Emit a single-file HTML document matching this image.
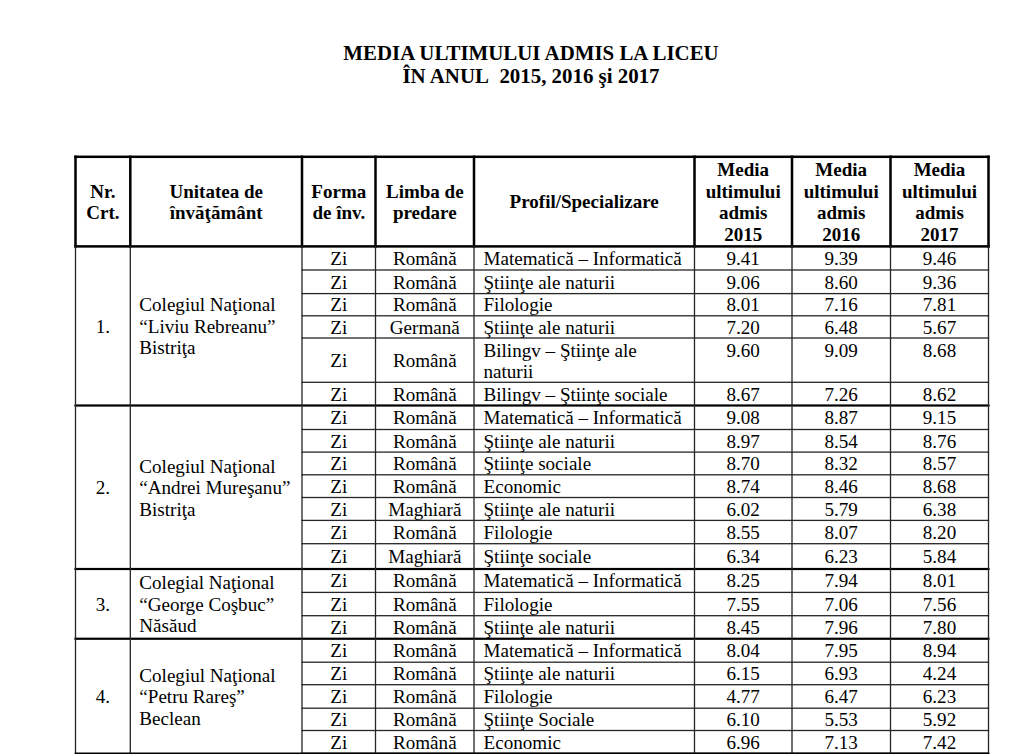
<!DOCTYPE html><html><head><meta charset="utf-8"><style>
html,body{margin:0;padding:0;background:#fff;width:1024px;height:754px;overflow:hidden;}
body{position:relative;font-family:"Liberation Serif",serif;color:#000;}
.t{position:absolute;white-space:nowrap;line-height:1;}
.c{transform:translateX(-50%);}
.b{font-weight:bold;}
svg{position:absolute;left:0;top:0;}
</style></head><body>
<svg width="1024" height="754" viewBox="0 0 1024 754"><rect x="74.25" y="155.55" width="915.50" height="2.5" fill="#000"/><rect x="74.25" y="155.55" width="2.5" height="92.10" fill="#000"/><rect x="129.05" y="155.55" width="2.5" height="92.10" fill="#000"/><rect x="300.75" y="155.55" width="2.5" height="92.10" fill="#000"/><rect x="374.25" y="155.55" width="2.5" height="92.10" fill="#000"/><rect x="472.75" y="155.55" width="2.5" height="92.10" fill="#000"/><rect x="693.25" y="155.55" width="2.5" height="92.10" fill="#000"/><rect x="790.75" y="155.55" width="2.5" height="92.10" fill="#000"/><rect x="889.25" y="155.55" width="2.5" height="92.10" fill="#000"/><rect x="987.25" y="155.55" width="2.5" height="92.10" fill="#000"/><rect x="74.25" y="245.15" width="915.50" height="2.5" fill="#000"/><rect x="301.35" y="269.35" width="687.80" height="1.3" fill="#262626"/><rect x="301.35" y="292.95" width="687.80" height="1.3" fill="#262626"/><rect x="301.35" y="315.15" width="687.80" height="1.3" fill="#262626"/><rect x="301.35" y="337.35" width="687.80" height="1.3" fill="#262626"/><rect x="301.35" y="381.65" width="687.80" height="1.3" fill="#262626"/><rect x="74.40" y="404.40" width="915.20" height="2.2" fill="#000"/><rect x="301.35" y="428.85" width="687.80" height="1.3" fill="#262626"/><rect x="301.35" y="451.45" width="687.80" height="1.3" fill="#262626"/><rect x="301.35" y="474.15" width="687.80" height="1.3" fill="#262626"/><rect x="301.35" y="496.85" width="687.80" height="1.3" fill="#262626"/><rect x="301.35" y="519.75" width="687.80" height="1.3" fill="#262626"/><rect x="301.35" y="543.05" width="687.80" height="1.3" fill="#262626"/><rect x="74.40" y="567.90" width="915.20" height="2.2" fill="#000"/><rect x="301.35" y="591.75" width="687.80" height="1.3" fill="#262626"/><rect x="301.35" y="615.05" width="687.80" height="1.3" fill="#262626"/><rect x="74.40" y="637.65" width="915.20" height="2.2" fill="#000"/><rect x="301.35" y="661.55" width="687.80" height="1.3" fill="#262626"/><rect x="301.35" y="684.05" width="687.80" height="1.3" fill="#262626"/><rect x="301.35" y="707.55" width="687.80" height="1.3" fill="#262626"/><rect x="301.35" y="729.85" width="687.80" height="1.3" fill="#262626"/><rect x="301.35" y="752.65" width="687.80" height="1.3" fill="#262626"/><rect x="74.85" y="245.75" width="1.3" height="508.20" fill="#262626"/><rect x="129.65" y="245.75" width="1.3" height="508.20" fill="#262626"/><rect x="301.35" y="245.75" width="1.3" height="508.20" fill="#262626"/><rect x="374.85" y="245.75" width="1.3" height="508.20" fill="#262626"/><rect x="473.35" y="245.75" width="1.3" height="508.20" fill="#262626"/><rect x="693.85" y="245.75" width="1.3" height="508.20" fill="#262626"/><rect x="791.35" y="245.75" width="1.3" height="508.20" fill="#262626"/><rect x="889.85" y="245.75" width="1.3" height="508.20" fill="#262626"/><rect x="987.85" y="245.75" width="1.3" height="508.20" fill="#262626"/><rect x="74.70" y="752.50" width="914.60" height="1.6" fill="#000"/></svg>
<div class="t b c" style="left:531.0px;top:42.9px;font-size:20.9px">MEDIA ULTIMULUI ADMIS LA LICEU</div>
<div class="t b c" style="left:531.0px;top:66.1px;font-size:20.9px">ÎN ANUL&nbsp; 2015, 2016 şi 2017</div>
<div class="t b c" style="left:102.9px;top:181.8px;font-size:19.0px">Nr.</div>
<div class="t b c" style="left:102.9px;top:202.9px;font-size:19.0px">Crt.</div>
<div class="t b c" style="left:216.2px;top:181.8px;font-size:19.0px">Unitatea de</div>
<div class="t b c" style="left:216.2px;top:202.9px;font-size:19.0px">învăţământ</div>
<div class="t b c" style="left:338.8px;top:181.8px;font-size:19.0px">Forma</div>
<div class="t b c" style="left:338.8px;top:202.9px;font-size:19.0px">de înv.</div>
<div class="t b c" style="left:424.8px;top:181.8px;font-size:19.0px">Limba de</div>
<div class="t b c" style="left:424.8px;top:202.9px;font-size:19.0px">predare</div>
<div class="t b c" style="left:584.2px;top:192.4px;font-size:19.0px">Profil/Specializare</div>
<div class="t b c" style="left:743.2px;top:159.6px;font-size:19.0px">Media</div>
<div class="t b c" style="left:743.2px;top:181.8px;font-size:19.0px">ultimului</div>
<div class="t b c" style="left:743.2px;top:202.9px;font-size:19.0px">admis</div>
<div class="t b c" style="left:743.2px;top:225.1px;font-size:19.0px">2015</div>
<div class="t b c" style="left:841.2px;top:159.6px;font-size:19.0px">Media</div>
<div class="t b c" style="left:841.2px;top:181.8px;font-size:19.0px">ultimului</div>
<div class="t b c" style="left:841.2px;top:202.9px;font-size:19.0px">admis</div>
<div class="t b c" style="left:841.2px;top:225.1px;font-size:19.0px">2016</div>
<div class="t b c" style="left:939.5px;top:159.6px;font-size:19.0px">Media</div>
<div class="t b c" style="left:939.5px;top:181.8px;font-size:19.0px">ultimului</div>
<div class="t b c" style="left:939.5px;top:202.9px;font-size:19.0px">admis</div>
<div class="t b c" style="left:939.5px;top:225.1px;font-size:19.0px">2017</div>
<div class="t  c" style="left:338.8px;top:248.9px;font-size:19.1px">Zi</div>
<div class="t  c" style="left:424.8px;top:248.9px;font-size:19.1px">Română</div>
<div class="t " style="left:483.5px;top:248.9px;font-size:19.1px">Matematică – Informatică</div>
<div class="t  c" style="left:743.2px;top:248.9px;font-size:19.1px">9.41</div>
<div class="t  c" style="left:841.2px;top:248.9px;font-size:19.1px">9.39</div>
<div class="t  c" style="left:939.5px;top:248.9px;font-size:19.1px">9.46</div>
<div class="t  c" style="left:338.8px;top:272.5px;font-size:19.1px">Zi</div>
<div class="t  c" style="left:424.8px;top:272.5px;font-size:19.1px">Română</div>
<div class="t " style="left:483.5px;top:272.5px;font-size:19.1px">Ştiinţe ale naturii</div>
<div class="t  c" style="left:743.2px;top:272.5px;font-size:19.1px">9.06</div>
<div class="t  c" style="left:841.2px;top:272.5px;font-size:19.1px">8.60</div>
<div class="t  c" style="left:939.5px;top:272.5px;font-size:19.1px">9.36</div>
<div class="t  c" style="left:338.8px;top:295.4px;font-size:19.1px">Zi</div>
<div class="t  c" style="left:424.8px;top:295.4px;font-size:19.1px">Română</div>
<div class="t " style="left:483.5px;top:295.4px;font-size:19.1px">Filologie</div>
<div class="t  c" style="left:743.2px;top:295.4px;font-size:19.1px">8.01</div>
<div class="t  c" style="left:841.2px;top:295.4px;font-size:19.1px">7.16</div>
<div class="t  c" style="left:939.5px;top:295.4px;font-size:19.1px">7.81</div>
<div class="t  c" style="left:338.8px;top:317.6px;font-size:19.1px">Zi</div>
<div class="t  c" style="left:424.8px;top:317.6px;font-size:19.1px">Germană</div>
<div class="t " style="left:483.5px;top:317.6px;font-size:19.1px">Ştiinţe ale naturii</div>
<div class="t  c" style="left:743.2px;top:317.6px;font-size:19.1px">7.20</div>
<div class="t  c" style="left:841.2px;top:317.6px;font-size:19.1px">6.48</div>
<div class="t  c" style="left:939.5px;top:317.6px;font-size:19.1px">5.67</div>
<div class="t  c" style="left:338.8px;top:350.8px;font-size:19.1px">Zi</div>
<div class="t  c" style="left:424.8px;top:350.8px;font-size:19.1px">Română</div>
<div class="t " style="left:483.5px;top:340.8px;font-size:19.1px">Bilingv – Ştiinţe ale</div>
<div class="t " style="left:483.5px;top:361.8px;font-size:19.1px">naturii</div>
<div class="t  c" style="left:743.2px;top:340.5px;font-size:19.1px">9.60</div>
<div class="t  c" style="left:841.2px;top:340.5px;font-size:19.1px">9.09</div>
<div class="t  c" style="left:939.5px;top:340.5px;font-size:19.1px">8.68</div>
<div class="t  c" style="left:338.8px;top:384.6px;font-size:19.1px">Zi</div>
<div class="t  c" style="left:424.8px;top:384.6px;font-size:19.1px">Română</div>
<div class="t " style="left:483.5px;top:384.6px;font-size:19.1px">Bilingv – Ştiinţe sociale</div>
<div class="t  c" style="left:743.2px;top:384.6px;font-size:19.1px">8.67</div>
<div class="t  c" style="left:841.2px;top:384.6px;font-size:19.1px">7.26</div>
<div class="t  c" style="left:939.5px;top:384.6px;font-size:19.1px">8.62</div>
<div class="t  c" style="left:338.8px;top:408.2px;font-size:19.1px">Zi</div>
<div class="t  c" style="left:424.8px;top:408.2px;font-size:19.1px">Română</div>
<div class="t " style="left:483.5px;top:408.2px;font-size:19.1px">Matematică – Informatică</div>
<div class="t  c" style="left:743.2px;top:408.2px;font-size:19.1px">9.08</div>
<div class="t  c" style="left:841.2px;top:408.2px;font-size:19.1px">8.87</div>
<div class="t  c" style="left:939.5px;top:408.2px;font-size:19.1px">9.15</div>
<div class="t  c" style="left:338.8px;top:431.5px;font-size:19.1px">Zi</div>
<div class="t  c" style="left:424.8px;top:431.5px;font-size:19.1px">Română</div>
<div class="t " style="left:483.5px;top:431.5px;font-size:19.1px">Ştiinţe ale naturii</div>
<div class="t  c" style="left:743.2px;top:431.5px;font-size:19.1px">8.97</div>
<div class="t  c" style="left:841.2px;top:431.5px;font-size:19.1px">8.54</div>
<div class="t  c" style="left:939.5px;top:431.5px;font-size:19.1px">8.76</div>
<div class="t  c" style="left:338.8px;top:454.1px;font-size:19.1px">Zi</div>
<div class="t  c" style="left:424.8px;top:454.1px;font-size:19.1px">Română</div>
<div class="t " style="left:483.5px;top:454.1px;font-size:19.1px">Ştiinţe sociale</div>
<div class="t  c" style="left:743.2px;top:454.1px;font-size:19.1px">8.70</div>
<div class="t  c" style="left:841.2px;top:454.1px;font-size:19.1px">8.32</div>
<div class="t  c" style="left:939.5px;top:454.1px;font-size:19.1px">8.57</div>
<div class="t  c" style="left:338.8px;top:476.8px;font-size:19.1px">Zi</div>
<div class="t  c" style="left:424.8px;top:476.8px;font-size:19.1px">Română</div>
<div class="t " style="left:483.5px;top:476.8px;font-size:19.1px">Economic</div>
<div class="t  c" style="left:743.2px;top:476.8px;font-size:19.1px">8.74</div>
<div class="t  c" style="left:841.2px;top:476.8px;font-size:19.1px">8.46</div>
<div class="t  c" style="left:939.5px;top:476.8px;font-size:19.1px">8.68</div>
<div class="t  c" style="left:338.8px;top:499.6px;font-size:19.1px">Zi</div>
<div class="t  c" style="left:424.8px;top:499.6px;font-size:19.1px">Maghiară</div>
<div class="t " style="left:483.5px;top:499.6px;font-size:19.1px">Ştiinţe ale naturii</div>
<div class="t  c" style="left:743.2px;top:499.6px;font-size:19.1px">6.02</div>
<div class="t  c" style="left:841.2px;top:499.6px;font-size:19.1px">5.79</div>
<div class="t  c" style="left:939.5px;top:499.6px;font-size:19.1px">6.38</div>
<div class="t  c" style="left:338.8px;top:522.7px;font-size:19.1px">Zi</div>
<div class="t  c" style="left:424.8px;top:522.7px;font-size:19.1px">Română</div>
<div class="t " style="left:483.5px;top:522.7px;font-size:19.1px">Filologie</div>
<div class="t  c" style="left:743.2px;top:522.7px;font-size:19.1px">8.55</div>
<div class="t  c" style="left:841.2px;top:522.7px;font-size:19.1px">8.07</div>
<div class="t  c" style="left:939.5px;top:522.7px;font-size:19.1px">8.20</div>
<div class="t  c" style="left:338.8px;top:547.0px;font-size:19.1px">Zi</div>
<div class="t  c" style="left:424.8px;top:547.0px;font-size:19.1px">Maghiară</div>
<div class="t " style="left:483.5px;top:547.0px;font-size:19.1px">Ştiinţe sociale</div>
<div class="t  c" style="left:743.2px;top:547.0px;font-size:19.1px">6.34</div>
<div class="t  c" style="left:841.2px;top:547.0px;font-size:19.1px">6.23</div>
<div class="t  c" style="left:939.5px;top:547.0px;font-size:19.1px">5.84</div>
<div class="t  c" style="left:338.8px;top:571.4px;font-size:19.1px">Zi</div>
<div class="t  c" style="left:424.8px;top:571.4px;font-size:19.1px">Română</div>
<div class="t " style="left:483.5px;top:571.4px;font-size:19.1px">Matematică – Informatică</div>
<div class="t  c" style="left:743.2px;top:571.4px;font-size:19.1px">8.25</div>
<div class="t  c" style="left:841.2px;top:571.4px;font-size:19.1px">7.94</div>
<div class="t  c" style="left:939.5px;top:571.4px;font-size:19.1px">8.01</div>
<div class="t  c" style="left:338.8px;top:594.7px;font-size:19.1px">Zi</div>
<div class="t  c" style="left:424.8px;top:594.7px;font-size:19.1px">Română</div>
<div class="t " style="left:483.5px;top:594.7px;font-size:19.1px">Filologie</div>
<div class="t  c" style="left:743.2px;top:594.7px;font-size:19.1px">7.55</div>
<div class="t  c" style="left:841.2px;top:594.7px;font-size:19.1px">7.06</div>
<div class="t  c" style="left:939.5px;top:594.7px;font-size:19.1px">7.56</div>
<div class="t  c" style="left:338.8px;top:617.9px;font-size:19.1px">Zi</div>
<div class="t  c" style="left:424.8px;top:617.9px;font-size:19.1px">Română</div>
<div class="t " style="left:483.5px;top:617.9px;font-size:19.1px">Ştiinţe ale naturii</div>
<div class="t  c" style="left:743.2px;top:617.9px;font-size:19.1px">8.45</div>
<div class="t  c" style="left:841.2px;top:617.9px;font-size:19.1px">7.96</div>
<div class="t  c" style="left:939.5px;top:617.9px;font-size:19.1px">7.80</div>
<div class="t  c" style="left:338.8px;top:641.2px;font-size:19.1px">Zi</div>
<div class="t  c" style="left:424.8px;top:641.2px;font-size:19.1px">Română</div>
<div class="t " style="left:483.5px;top:641.2px;font-size:19.1px">Matematică – Informatică</div>
<div class="t  c" style="left:743.2px;top:641.2px;font-size:19.1px">8.04</div>
<div class="t  c" style="left:841.2px;top:641.2px;font-size:19.1px">7.95</div>
<div class="t  c" style="left:939.5px;top:641.2px;font-size:19.1px">8.94</div>
<div class="t  c" style="left:338.8px;top:664.1px;font-size:19.1px">Zi</div>
<div class="t  c" style="left:424.8px;top:664.1px;font-size:19.1px">Română</div>
<div class="t " style="left:483.5px;top:664.1px;font-size:19.1px">Ştiinţe ale naturii</div>
<div class="t  c" style="left:743.2px;top:664.1px;font-size:19.1px">6.15</div>
<div class="t  c" style="left:841.2px;top:664.1px;font-size:19.1px">6.93</div>
<div class="t  c" style="left:939.5px;top:664.1px;font-size:19.1px">4.24</div>
<div class="t  c" style="left:338.8px;top:687.1px;font-size:19.1px">Zi</div>
<div class="t  c" style="left:424.8px;top:687.1px;font-size:19.1px">Română</div>
<div class="t " style="left:483.5px;top:687.1px;font-size:19.1px">Filologie</div>
<div class="t  c" style="left:743.2px;top:687.1px;font-size:19.1px">4.77</div>
<div class="t  c" style="left:841.2px;top:687.1px;font-size:19.1px">6.47</div>
<div class="t  c" style="left:939.5px;top:687.1px;font-size:19.1px">6.23</div>
<div class="t  c" style="left:338.8px;top:710.0px;font-size:19.1px">Zi</div>
<div class="t  c" style="left:424.8px;top:710.0px;font-size:19.1px">Română</div>
<div class="t " style="left:483.5px;top:710.0px;font-size:19.1px">Ştiinţe Sociale</div>
<div class="t  c" style="left:743.2px;top:710.0px;font-size:19.1px">6.10</div>
<div class="t  c" style="left:841.2px;top:710.0px;font-size:19.1px">5.53</div>
<div class="t  c" style="left:939.5px;top:710.0px;font-size:19.1px">5.92</div>
<div class="t  c" style="left:338.8px;top:732.6px;font-size:19.1px">Zi</div>
<div class="t  c" style="left:424.8px;top:732.6px;font-size:19.1px">Română</div>
<div class="t " style="left:483.5px;top:732.6px;font-size:19.1px">Economic</div>
<div class="t  c" style="left:743.2px;top:732.6px;font-size:19.1px">6.96</div>
<div class="t  c" style="left:841.2px;top:732.6px;font-size:19.1px">7.13</div>
<div class="t  c" style="left:939.5px;top:732.6px;font-size:19.1px">7.42</div>
<div class="t  c" style="left:102.9px;top:316.6px;font-size:19.1px">1.</div>
<div class="t " style="left:139.3px;top:295.4px;font-size:19.1px">Colegiul Naţional</div>
<div class="t " style="left:139.3px;top:316.9px;font-size:19.1px">“Liviu Rebreanu”</div>
<div class="t " style="left:139.3px;top:338.4px;font-size:19.1px">Bistriţa</div>
<div class="t  c" style="left:102.9px;top:477.9px;font-size:19.1px">2.</div>
<div class="t " style="left:139.3px;top:456.7px;font-size:19.1px">Colegiul Naţional</div>
<div class="t " style="left:139.3px;top:478.2px;font-size:19.1px">“Andrei Mureşanu”</div>
<div class="t " style="left:139.3px;top:499.7px;font-size:19.1px">Bistriţa</div>
<div class="t  c" style="left:102.9px;top:594.6px;font-size:19.1px">3.</div>
<div class="t " style="left:139.3px;top:573.4px;font-size:19.1px">Colegial Naţional</div>
<div class="t " style="left:139.3px;top:594.9px;font-size:19.1px">“George Coşbuc”</div>
<div class="t " style="left:139.3px;top:616.4px;font-size:19.1px">Năsăud</div>
<div class="t  c" style="left:102.9px;top:686.7px;font-size:19.1px">4.</div>
<div class="t " style="left:139.3px;top:665.5px;font-size:19.1px">Colegiul Naţional</div>
<div class="t " style="left:139.3px;top:687.0px;font-size:19.1px">“Petru Rareş”</div>
<div class="t " style="left:139.3px;top:708.5px;font-size:19.1px">Beclean</div>
</body></html>
